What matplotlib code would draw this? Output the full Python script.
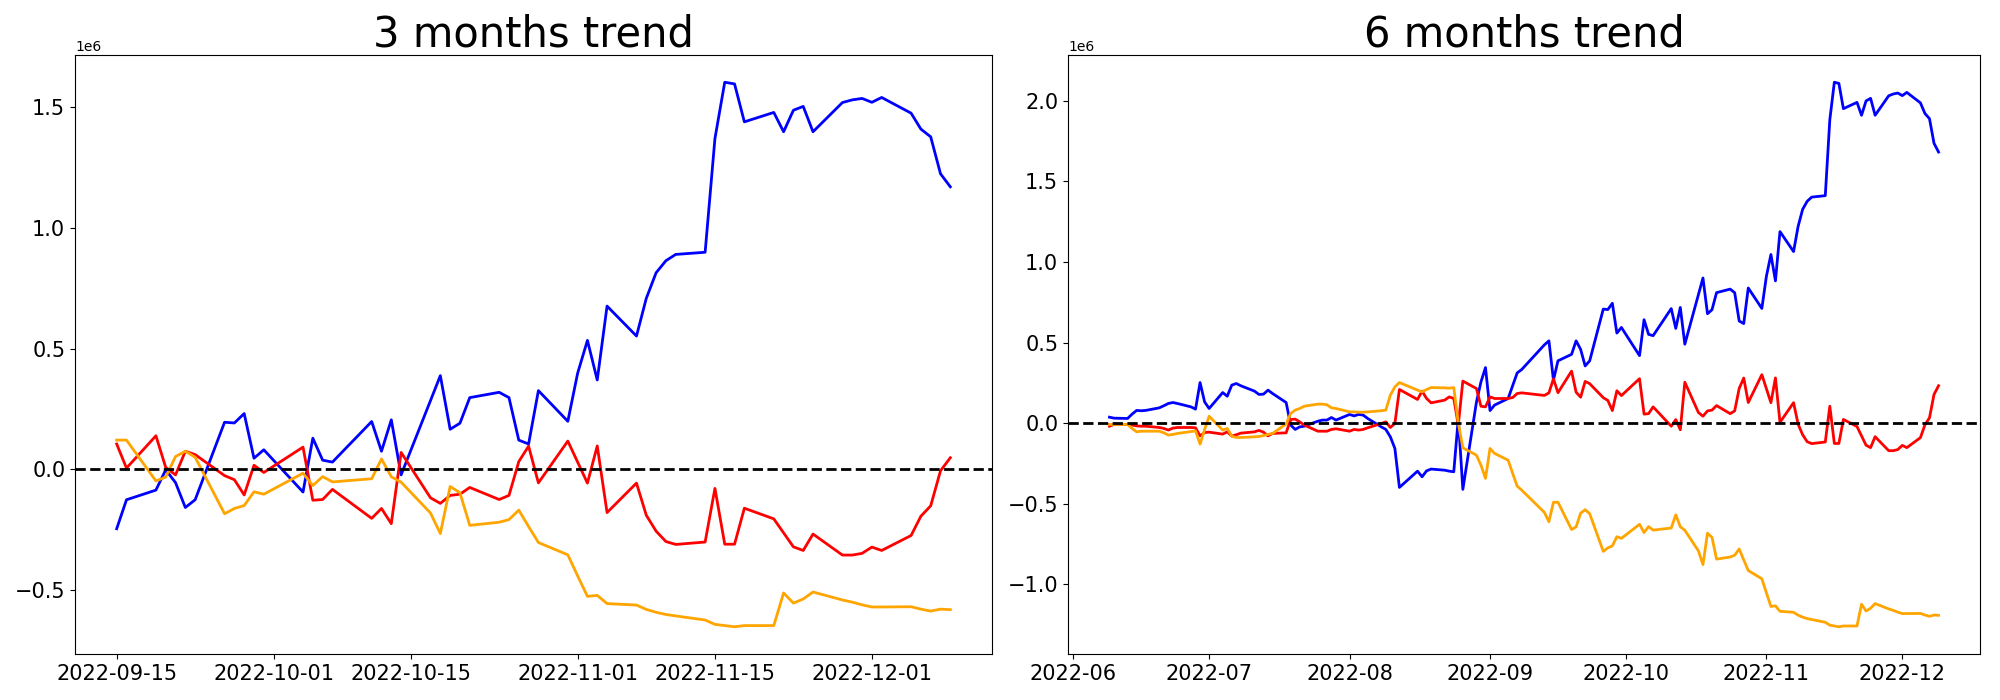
import matplotlib
matplotlib.use("Agg")
import matplotlib.pyplot as plt
import pandas as pd

# Korean trading-day calendar
holidays = ["2022-08-15", "2022-09-09", "2022-09-12", "2022-10-03", "2022-10-10"]
dates_3m = pd.bdate_range("2022-09-15", "2022-12-09", freq="C", holidays=holidays)
dates_6m = pd.bdate_range("2022-06-09", "2022-12-09", freq="C", holidays=holidays)

# ---- 3 months trend (values in 1e6) ----
blue_3m = [-0.246, -0.126, -0.086, -0.002, -0.055, -0.158, -0.126, 0.195, 0.192, 0.231, 0.046, 0.081,
           -0.094, 0.129, 0.038, 0.030, 0.198, 0.075, 0.205, -0.023, 0.285, 0.388, 0.166, 0.191, 0.297,
           0.319, 0.297, 0.121, 0.105, 0.326, 0.199,
           0.398, 0.534, 0.370, 0.676, 0.552, 0.708, 0.814, 0.864, 0.890, 0.899, 1.370, 1.603, 1.596,
           1.439, 1.478, 1.398, 1.487, 1.503, 1.398, 1.519, 1.530, 1.536,
           1.520, 1.540, 1.475, 1.409, 1.377, 1.224, 1.170]
red_3m = [0.105, 0.005, 0.139, 0.008, -0.023, 0.075, 0.061, -0.026, -0.043, -0.106, 0.017, -0.013,
          0.092, -0.128, -0.125, -0.083, -0.203, -0.162, -0.225, 0.070, -0.118, -0.141, -0.108, -0.103,
          -0.075, -0.125, -0.108, 0.032, 0.096, -0.056, 0.117,
          0.030, -0.057, 0.097, -0.179, -0.057, -0.190, -0.256, -0.299, -0.311, -0.301, -0.079, -0.310,
          -0.310, -0.161, -0.205, -0.263, -0.321, -0.336, -0.268, -0.355, -0.355, -0.348,
          -0.322, -0.336, -0.274, -0.194, -0.151, -0.006, 0.048]
orange_3m = [0.121, 0.121, -0.048, -0.032, 0.053, 0.075, 0.050, -0.184, -0.162, -0.150, -0.093, -0.103,
             -0.016, -0.067, -0.030, -0.052, -0.039, 0.043, -0.031, -0.053, -0.181, -0.266, -0.071, -0.097,
             -0.232, -0.219, -0.208, -0.169, -0.237, -0.303, -0.354,
             -0.441, -0.526, -0.522, -0.556, -0.562, -0.580, -0.592, -0.601, -0.607, -0.624, -0.642, -0.647,
             -0.652, -0.647, -0.647, -0.512, -0.554, -0.537, -0.508, -0.541, -0.550, -0.561,
             -0.570, -0.570, -0.569, -0.579, -0.587, -0.579, -0.581]

# ---- 6 months trend (values in 1e6) ----
blue_6m = [0.037, 0.031, 0.029, 0.056, 0.079, 0.077, 0.079, 0.095, 0.108, 0.122, 0.128, 0.122, 0.101, 0.087, 0.252, 0.132,
           0.091, 0.190, 0.167, 0.236, 0.246, 0.232, 0.199, 0.178, 0.180, 0.205, 0.184, 0.128, -0.012, -0.039, -0.023,
           -0.019, 0.012, 0.019, 0.019, 0.035, 0.019,
           0.054, 0.045, 0.054, 0.050, 0.029, -0.023, -0.039, -0.085, -0.157, -0.399, -0.298, -0.333, -0.296, -0.285,
           -0.292, -0.298, -0.302, 0.030, -0.411, 0.130, 0.256, 0.345,
           0.078, 0.112, 0.153, 0.233, 0.312, 0.333, 0.486, 0.511,
           0.267, 0.387, 0.427, 0.511, 0.458, 0.355, 0.387, 0.708, 0.705, 0.744, 0.559, 0.594,
           0.419, 0.642, 0.551, 0.543, 0.711, 0.588, 0.718, 0.490, 0.798, 0.901, 0.679, 0.704, 0.810, 0.832, 0.810,
           0.634, 0.618, 0.839, 0.712,
           0.911, 1.047, 0.883, 1.189, 1.065, 1.221, 1.327, 1.377, 1.403, 1.412, 1.883, 2.116, 2.109, 1.952, 1.991,
           1.911, 2.000, 2.016, 1.911, 2.032, 2.043, 2.049,
           2.033, 2.053, 1.988, 1.922, 1.890, 1.737, 1.683]
red_6m = [-0.019, -0.008, -0.008, -0.012, -0.017, -0.019, -0.019, -0.027, -0.033, -0.043, -0.031, -0.027, -0.027, -0.029, -0.079, -0.058,
          -0.056, -0.068, -0.054, -0.080, -0.072, -0.062, -0.054, -0.045, -0.056, -0.079, -0.064, -0.060, 0.023, 0.025, 0.008,
          -0.012, -0.050, -0.050, -0.050, -0.039, -0.035,
          -0.050, -0.039, -0.043, -0.039, -0.029, -0.002, 0.008, -0.027, -0.002, 0.209, 0.147, 0.199, 0.153, 0.126,
          0.143, 0.163, 0.153, -0.012, 0.261, 0.215, 0.105, 0.101,
          0.163, 0.153, 0.153, 0.159, 0.184, 0.188, 0.172, 0.188,
          0.275, 0.189, 0.323, 0.192, 0.161, 0.259, 0.245, 0.158, 0.141, 0.078, 0.201, 0.171,
          0.276, 0.056, 0.059, 0.101, -0.019, 0.022, -0.041, 0.254, 0.066, 0.043, 0.076, 0.081, 0.109, 0.059, 0.076,
          0.216, 0.280, 0.128, 0.301,
          0.214, 0.127, 0.281, 0.005, 0.127, -0.006, -0.072, -0.115, -0.127, -0.117, 0.105, -0.126, -0.126, 0.023,
          -0.021, -0.079, -0.137, -0.152, -0.084, -0.171, -0.171, -0.164,
          -0.138, -0.152, -0.090, -0.010, 0.033, 0.178, 0.232]
orange_6m = [-0.008, -0.008, -0.008, -0.033, -0.054, -0.050, -0.050, -0.050, -0.060, -0.074, -0.070, -0.064, -0.052, -0.048, -0.130, -0.040,
             0.043, -0.043, -0.033, -0.081, -0.089, -0.089, -0.085, -0.083, -0.077, -0.070, -0.064, -0.005, 0.060, 0.081, 0.091,
             0.105, 0.118, 0.118, 0.114, 0.095, 0.091,
             0.070, 0.070, 0.068, 0.068, 0.070, 0.077, 0.081, 0.174, 0.225, 0.252, 0.205, 0.194, 0.209, 0.221,
             0.219, 0.217, 0.221, 0.000, -0.153, -0.199, -0.261, -0.343,
             -0.157, -0.188, -0.230, -0.312, -0.391, -0.416, -0.554, -0.612,
             -0.491, -0.491, -0.660, -0.644, -0.559, -0.537, -0.562, -0.796, -0.774, -0.762, -0.705, -0.715,
             -0.628, -0.679, -0.642, -0.664, -0.651, -0.569, -0.643, -0.665, -0.793, -0.878, -0.683, -0.709, -0.844,
             -0.831, -0.820, -0.781, -0.849, -0.915, -0.966,
             -1.053, -1.138, -1.134, -1.168, -1.174, -1.192, -1.204, -1.213, -1.219, -1.236, -1.254, -1.259, -1.264,
             -1.259, -1.259, -1.124, -1.166, -1.149, -1.120, -1.153, -1.162, -1.173,
             -1.182, -1.182, -1.181, -1.191, -1.199, -1.191, -1.193]

titles = ["3 months trend", "6 months trend"]
SCALE = 1e6

fig = plt.figure(figsize=(20, 7), dpi=100)
ax1 = fig.add_axes([0.0375, 0.0657, 0.4585, 0.8557])
ax2 = fig.add_axes([0.534, 0.0657, 0.456, 0.8557])

panels = [
    (ax1, dates_3m, blue_3m, red_3m, orange_3m, titles[0]),
    (ax2, dates_6m, blue_6m, red_6m, orange_6m, titles[1]),
]
for ax, d, b, r, o, t in panels:
    ax.plot(d, [v * SCALE for v in b], color="blue", linewidth=2)
    ax.plot(d, [v * SCALE for v in r], color="red", linewidth=2)
    ax.plot(d, [v * SCALE for v in o], color="orange", linewidth=2)
    ax.axhline(0, color="black", linestyle="--", linewidth=2)
    ax.set_title(t, fontsize=30)
    ax.tick_params(axis="both", labelsize=15)

fig.savefig("out.png", dpi=100)
